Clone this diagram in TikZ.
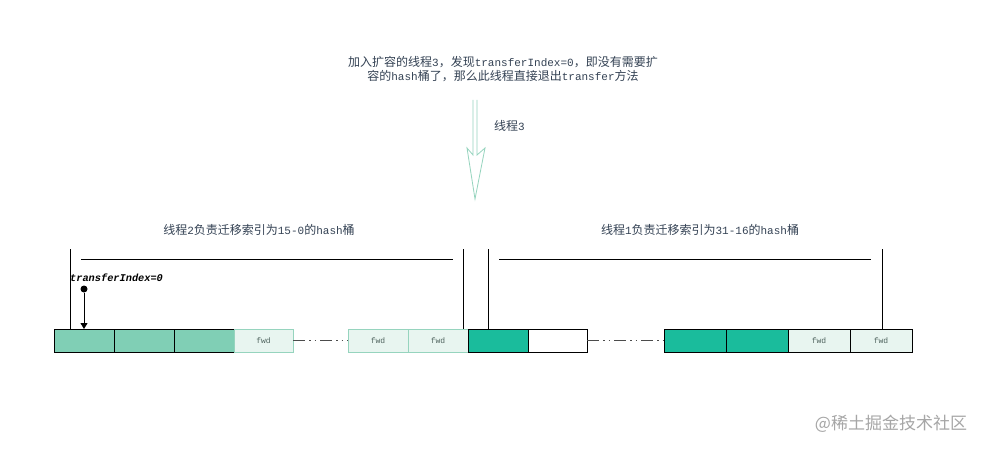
\documentclass[tikz,border=0pt]{standalone}
\usepackage{fontspec}
\setmainfont{Noto Sans CJK SC}
\newfontfamily\monofont{Liberation Mono}
\usetikzlibrary{arrows.meta}
\newcommand{\lt}[1]{{\monofont\fontsize{11}{14}\selectfont #1}}
\definecolor{midgreen}{RGB}{128,207,181}
\definecolor{tealc}{RGB}{26,188,156}
\definecolor{fwdfill}{RGB}{232,245,240}
\definecolor{fwdborder}{RGB}{150,212,190}
\definecolor{fwdtext}{RGB}{80,100,95}
\definecolor{txt}{RGB}{52,66,84}
\definecolor{arrowc}{RGB}{150,212,190}
\begin{document}
\begin{tikzpicture}[x=1pt,y=-1pt,
  cell/.style={draw=black, line width=0.8pt, minimum height=23pt, inner sep=0pt, outer sep=0pt, anchor=north west},
  midg/.style={cell, fill=midgreen, minimum width=60pt},
  tealcell/.style={cell, fill=tealc, minimum width=#1},
  whitecell/.style={cell, fill=white, minimum width=59pt},
  fwdc/.style={cell, draw=fwdborder, fill=fwdfill, minimum width=#1, font=\monofont\fontsize{8}{8}\selectfont, text=fwdtext},
  gap/.style={draw=black!70, line width=0.7pt, dash pattern=on 12pt off 4pt on 1.5pt off 4pt on 1.5pt off 4pt},
  bracket/.style={draw=black, line width=0.7pt},
  label/.style={text=txt, font=\fontsize{12}{14}\selectfont, inner sep=0pt}
]
\useasboundingbox (0,0) rectangle (987,449);
\fill[white] (0,0) rectangle (987,449);

% top text
\node[label, align=center] (title) at (503,69) {加入扩容的线程\lt{3}，发现\lt{transferIndex=0}，即没有需要扩\\容的\lt{hash}桶了，那么此线程直接退出\lt{transfer}方法};

% hollow arrow
\draw[draw=arrowc, line width=0.8pt, line join=miter]
  (473,100) -- (473,155) -- (467,148) -- (475,199) -- (485,148) -- (477,155) -- (477,100);
\node[label, anchor=west] (t3) at (494,126) {线程\lt{3}};

% section labels
\node[label] (lab2) at (259,230) {线程\lt{2}负责迁移索引为\lt{15-0}的\lt{hash}桶};
\node[label] (lab1) at (700,230) {线程\lt{1}负责迁移索引为\lt{31-16}的\lt{hash}桶};

% cells
\node[midg] (c1) at (54,329) {};
\node[midg] (c2) at (114,329) {};
\node[midg] (c3) at (174,329) {};
\node[fwdc=59pt] (f1) at (234,329) {fwd};
\node[fwdc=60pt] (f2) at (348,329) {fwd};
\node[fwdc=60pt] (f3) at (408,329) {fwd};
\node[tealcell=60pt] (t1) at (468,329) {};
\node[whitecell] (w1) at (528,329) {};
\node[tealcell=62pt] (t2) at (664,329) {};
\node[tealcell=62pt] (t3c) at (726,329) {};
\node[fwdc=62pt] (f4) at (788,329) {fwd};
\node[fwdc=62pt] (f5) at (850,329) {fwd};
\draw[draw=black, line width=0.8pt] (t3c.north east) -- (t3c.south east);
\draw[draw=black, line width=0.8pt] (f4.north west) rectangle (f5.south east);
\draw[draw=black, line width=0.8pt] (f4.north east) -- (f4.south east);

% gaps
\draw[gap] (f1.east) -- (f2.west);
\draw[gap] (w1.east) -- (t2.west);

% brackets thread 2
\coordinate (a1) at (70,249);
\coordinate (a2) at (463,249);
\draw[bracket] (a1) -- (a1 |- c1.north);
\draw[bracket] (a2) -- (a2 |- c1.north);
\coordinate (h1s) at (81,259);
\coordinate (h1e) at (453,259);
\draw[bracket] (h1s) -- (h1e);

% brackets thread 1
\coordinate (b1) at (488,249);
\coordinate (b2) at (882,249);
\draw[bracket] (b1) -- (b1 |- t1.north);
\draw[bracket] (b2) -- (b2 |- t1.north);
\coordinate (h2s) at (499,259);
\coordinate (h2e) at (871,259);
\draw[bracket] (h2s) -- (h2e);

% transferIndex pointer
\node[anchor=west, inner sep=0pt, font=\monofont\bfseries\itshape\fontsize{10.3}{12}\selectfont] (ti) at (70,278) {transferIndex=0};
\node[circle, fill=black, inner sep=0pt, minimum size=7pt] (dot) at (84,289) {};
\draw[line width=0.8pt, -{Triangle[length=6pt,width=7pt]}] (dot) -- (c1.north);

% watermark
\node[text=black!35, font=\fontsize{17}{17}\selectfont, inner sep=0pt] (wm) at (891,424) {@稀土掘金技术社区};
\end{tikzpicture}
\end{document}
